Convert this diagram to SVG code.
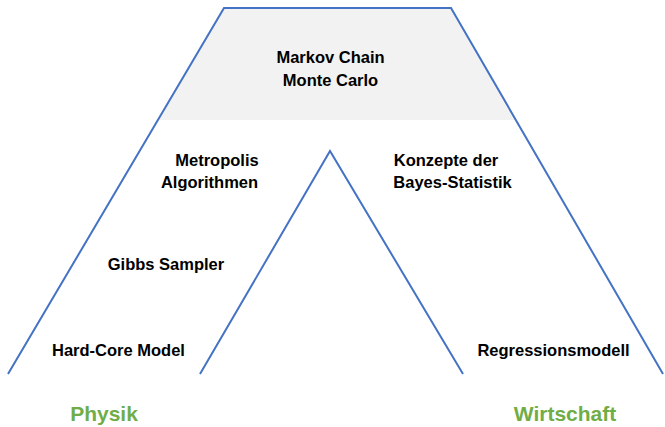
<svg xmlns="http://www.w3.org/2000/svg" width="665" height="427" viewBox="0 0 665 427">
<style>
.t{font-family:"Liberation Sans",Arial,sans-serif;font-weight:bold;font-size:16.5px;fill:#000;text-anchor:middle}
.g{font-family:"Liberation Sans",Arial,sans-serif;font-weight:bold;font-size:21px;fill:#70AD47;text-anchor:middle}
.ln{fill:none;stroke:#4472C4;stroke-width:2}
</style>
<rect width="665" height="427" fill="#fff"/>
<g id="top">
<polygon points="224,8 451,8 517,120 158,120" fill="#F2F2F2"/>
<text class="t" x="330.5" y="63">Markov Chain</text>
<text class="t" x="330.5" y="86">Monte Carlo</text>
</g>
<g id="connectors">
<polyline class="ln" points="8,374 224,8 451,8 663,374"/>
<polyline class="ln" points="200,374 330,151 463,374"/>
</g>
<g id="metropolis"><text class="t" x="217" y="166">Metropolis</text><text class="t" x="209.5" y="188">Algorithmen</text></g>
<g id="bayes"><text class="t" x="446" y="166">Konzepte der</text><text class="t" x="452.5" y="188">Bayes-Statistik</text></g>
<g id="gibbs"><text class="t" x="166" y="270">Gibbs Sampler</text></g>
<g id="hardcore"><text class="t" x="118.5" y="356">Hard-Core Model</text></g>
<g id="regression"><text class="t" x="553.5" y="356">Regressionsmodell</text></g>
<g id="physik"><text class="g" x="104" y="421">Physik</text></g>
<g id="wirtschaft"><text class="g" x="565" y="421">Wirtschaft</text></g>
</svg>
